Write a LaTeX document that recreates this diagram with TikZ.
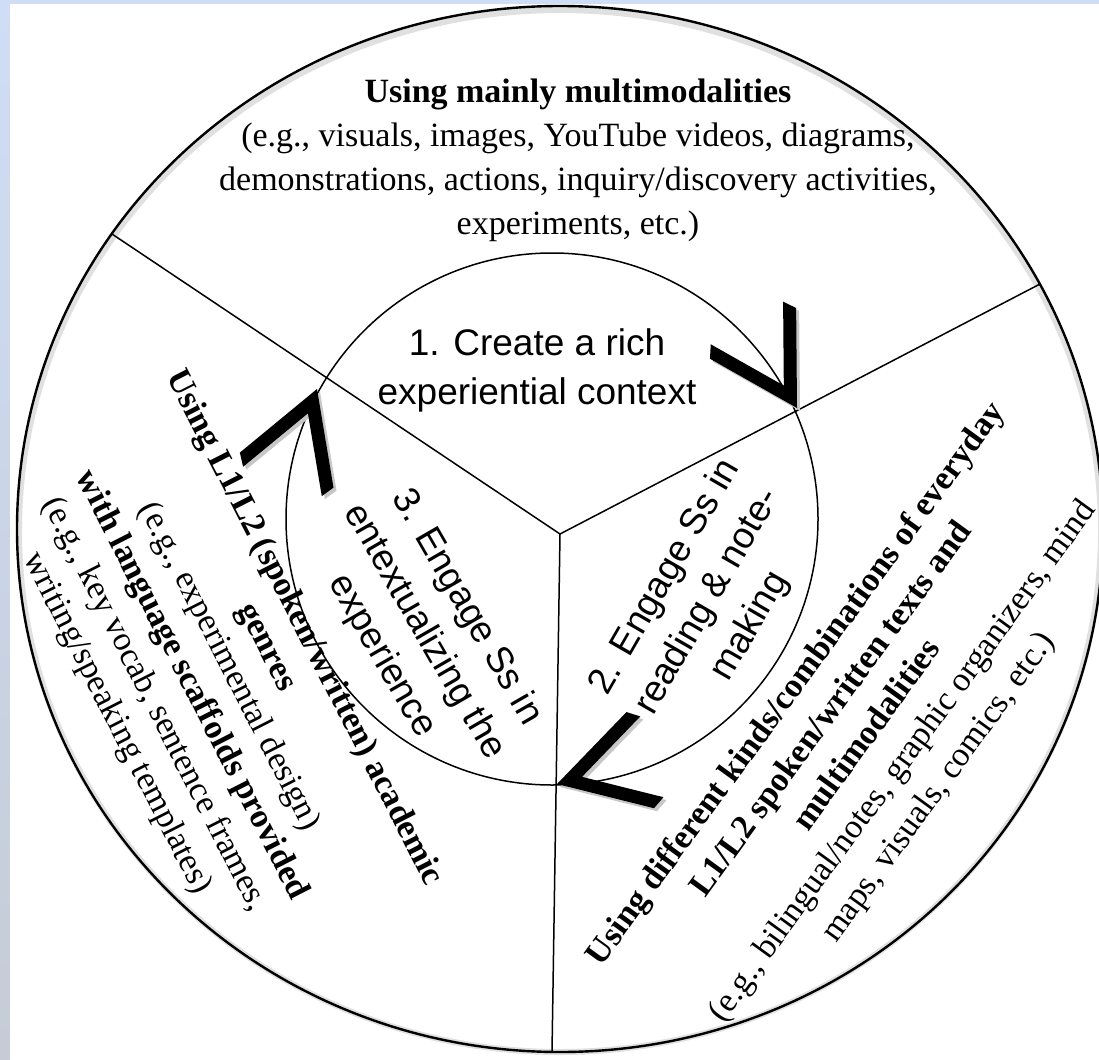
\documentclass[tikz,border=0pt]{standalone}
\usepackage{fontspec}
\setmainfont{Liberation Serif}
\newfontfamily\arialf{Liberation Sans}
\definecolor{bgblue}{HTML}{CFDDF6}
\definecolor{bggray}{HTML}{C5CCD6}
\tikzset{
  ring/.style={draw=black, line width=2.4pt},
  ring shadow/.style={draw=black!12, line width=6pt},
  inner ring/.style={draw=black, line width=1.5pt},
  divider/.style={draw=black, line width=1.5pt},
  chevron/.style={fill=black},
  chevron shadow/.style={fill=black!22},
  outer text/.style={align=center, font=\fontsize{34}{44}\selectfont, inner sep=0pt},
  step text/.style={align=center, font=\arialf\fontsize{37}{49}\selectfont, inner sep=0pt},
}
\newcommand{\chevronat}[3]{%
  \fill[chevron shadow, shift={(#1+3,#2-3)}, rotate=#3] (0,0) -- (-86.6,50) -- (-98.7,42) -- (-26,0) -- (-98.7,-42) -- (-86.6,-50) -- cycle;
  \fill[chevron, shift={(#1,#2)}, rotate=#3] (0,0) -- (-86.6,50) -- (-98.7,42) -- (-26,0) -- (-98.7,-42) -- (-86.6,-50) -- cycle;}
\begin{document}
\begin{tikzpicture}[x=1pt,y=1pt]
\useasboundingbox (0,0) rectangle (1099,-1059);
\fill[bgblue] (0,0) rectangle (1099,-1059);
\shade[top color=bgblue, bottom color=bggray] (0,0) rectangle (10,-1059);
\fill[white] (10,-4) rectangle (1099,-1059);

% geometry
\coordinate (J) at (560,-534);
\coordinate (Lend) at (112,-234);
\coordinate (Rend) at (1040,-284);
\coordinate (Bend) at (552,-1052);

\begin{scope}
\clip (10,-4) rectangle (1099,-1059);
\draw[ring shadow] (560,-531) ellipse [x radius=541, y radius=521];
\draw[ring] (560,-529) ellipse [x radius=543, y radius=523];
\end{scope}
\draw[inner ring] (552,-519) circle [radius=266];
\draw[divider] (Lend) -- (J) -- (Rend);
\draw[divider] (J) -- (Bend);

% arrowheads
\chevronat{797}{-408}{300.5}
\chevronat{557}{-784}{196}
\chevronat{317}{-389}{69.5}

% step texts
\node[step text] (s1) at (537,-370) {1. Create a rich\\experiential context};
\node[step text, rotate=60] (s2) at (708,-602) {2. Engage Ss in\\reading \& note-\\making};
\node[step text, rotate=-60] (s3) at (424,-632) {3. Engage Ss in\\entextualizing the\\experience};

% outer texts
\node[outer text] (top) at (578,-160) {\textbf{Using mainly multimodalities}\\(e.g., visuals, images, YouTube videos, diagrams,\\demonstrations, actions, inquiry/discovery activities,\\experiments, etc.)};
\node[outer text, rotate=-63, font=\fontsize{34}{42}\selectfont] (left) at (210,-676) {\textbf{Using L1/L2 (spoken/written) academic}\\\textbf{genres}\\(e.g., experimental design)\\\textbf{with language scaffolds provided}\\(e.g., key vocab, sentence frames,\\writing/speaking templates)};
\node[outer text, rotate=54] (right) at (868,-736) {\textbf{Using different kinds/combinations of everyday}\\\textbf{L1/L2 spoken/written texts and}\\\textbf{multimodalities}\\(e.g., bilingual/notes, graphic organizers, mind\\maps, visuals, comics, etc.)};
\end{tikzpicture}
\end{document}
